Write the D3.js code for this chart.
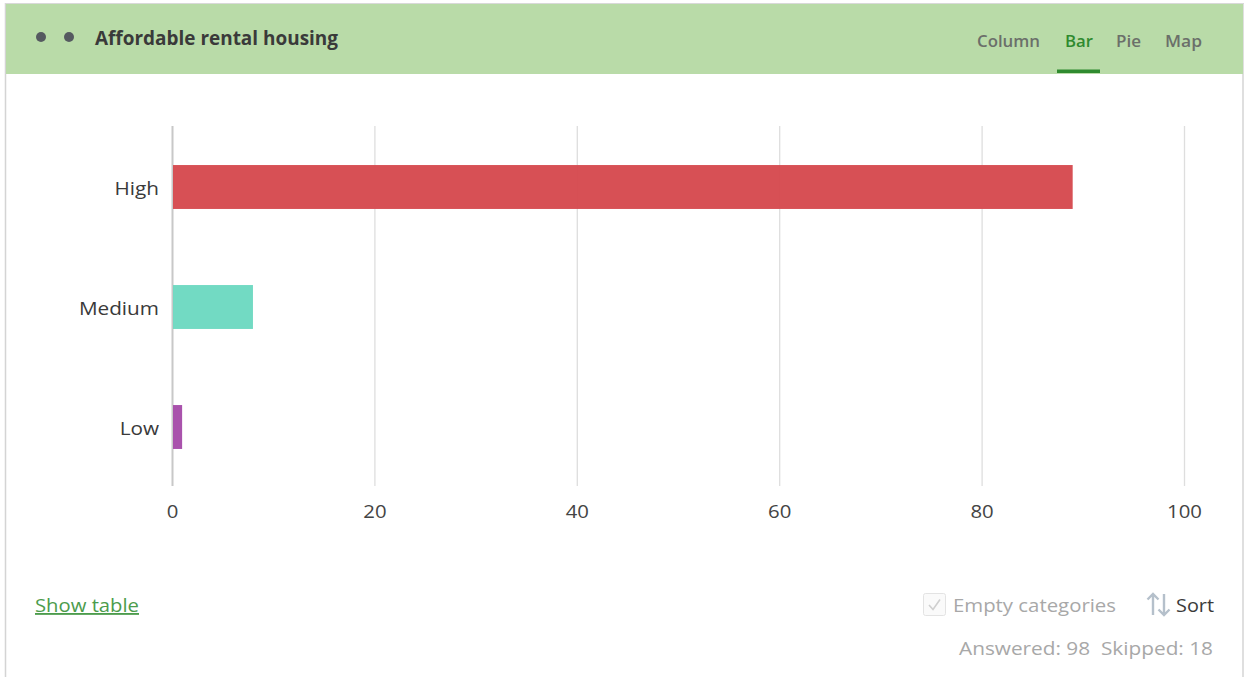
<!DOCTYPE html>
<html>
<head>
<meta charset="utf-8">
<script src="https://cdn.jsdelivr.net/npm/d3@7"></script>
<style>
  html, body { margin: 0; padding: 0; background: #fff; }
  svg { display: block; }
</style>
</head>
<body>
<svg id="chart" width="1244" height="677"></svg>
<script>
// Survey question results
const categories = ["High", "Medium", "Low"];
const counts = [89, 8, 1];
const barColors = ["#d64a4f", "#6dd9c1", "#a64ca9"];
const xTicks = [0, 20, 40, 60, 80, 100];
const tabs = ["Column", "Bar", "Pie", "Map"];
const answered = 98;
const skipped = 18;

const svg = d3.select("#chart");
const W = 1244, H = 677;
const font = "'Open Sans', 'Noto Sans', sans-serif";

// fit a text element to a given width
function fit(sel, w) {
  sel.attr("textLength", w).attr("lengthAdjust", "spacingAndGlyphs");
  return sel;
}
// widen text elements by a factor
function widen(sel, k) {
  sel.each(function () {
    const w = this.getComputedTextLength();
    d3.select(this).attr("textLength", w * k).attr("lengthAdjust", "spacingAndGlyphs");
  });
}

// card frame
svg.append("line").attr("x1", 5.5).attr("x2", 5.5).attr("y1", 3).attr("y2", H)
  .attr("stroke", "#d4d4d4").attr("stroke-width", 1.5);
svg.append("line").attr("x1", 1243).attr("x2", 1243).attr("y1", 3).attr("y2", H)
  .attr("stroke", "#d4d4d4").attr("stroke-width", 1.5);
svg.append("line").attr("x1", 5).attr("x2", W).attr("y1", 3.5).attr("y2", 3.5)
  .attr("stroke", "#d9d9d9").attr("stroke-width", 1);

// header band
svg.append("rect").attr("x", 6).attr("y", 4).attr("width", W - 7).attr("height", 70)
  .attr("fill", "#b9dba8");
svg.selectAll("circle.dot").data([41, 69]).join("circle")
  .attr("class", "dot").attr("cx", d => d).attr("cy", 37).attr("r", 5)
  .attr("fill", "#555a60");
fit(svg.append("text").attr("x", 95).attr("y", 45)
  .attr("font-family", font).attr("font-weight", 700).attr("font-size", 19)
  .attr("fill", "#3a3a3a").text("Affordable rental housing"), 243);

const tabX = [977, 1065, 1116, 1165];
const tabW = [63, 28, 25, 37];
svg.selectAll("text.tab").data(tabs).join("text")
  .attr("class", "tab")
  .attr("x", (d, i) => tabX[i]).attr("y", 47)
  .attr("font-family", font).attr("font-weight", 600).attr("font-size", 16)
  .attr("fill", d => d === "Bar" ? "#2f8a2f" : "#6b6f6a")
  .attr("textLength", (d, i) => tabW[i]).attr("lengthAdjust", "spacingAndGlyphs")
  .text(d => d);
svg.append("rect").attr("x", 1057).attr("y", 69.5).attr("width", 43).attr("height", 3.5)
  .attr("fill", "#2f8a2f");

// plot area
const plotLeft = 172, plotRight = 1184, plotTop = 126, plotBottom = 486;
const x = d3.scaleLinear().domain([0, 100]).range([plotLeft, plotRight]);
const y = d3.scaleBand().domain(categories).range([plotTop + 1, plotBottom + 1])
  .paddingInner(0.634).paddingOuter(0.317);

// vertical gridlines
const xAxis = d3.axisBottom(x).tickValues(xTicks).tickSize(-(plotBottom - plotTop)).tickPadding(19);
const gx = svg.append("g").attr("transform", `translate(0,${plotBottom})`).call(xAxis);
gx.select(".domain").remove();
gx.selectAll(".tick line").attr("stroke", d => d === 0 ? "#c8c8c8" : "#dedede")
  .attr("stroke-width", d => d === 0 ? 2 : 1.3);
gx.selectAll(".tick text").attr("font-family", font).attr("font-size", 18.5)
  .attr("fill", "#444");
widen(gx.selectAll(".tick text"), 1.1);

// category labels
const yAxis = d3.axisLeft(y).tickSize(0).tickPadding(13);
const gy = svg.append("g").attr("transform", `translate(${plotLeft},0)`).call(yAxis);
gy.select(".domain").remove();
gy.selectAll(".tick text").attr("font-family", font).attr("font-size", 18.5)
  .attr("fill", "#3a3a3a").attr("dy", "0.42em");
widen(gy.selectAll(".tick text"), 1.12);

// bars
svg.selectAll("rect.bar").data(categories).join("rect")
  .attr("class", "bar")
  .attr("x", x(0) + 1)
  .attr("y", d => y(d))
  .attr("width", (d, i) => x(counts[i]) - x(0) - 1)
  .attr("height", y.bandwidth())
  .attr("fill", (d, i) => barColors[i])
  .attr("fill-opacity", 0.97);

// footer
fit(svg.append("text").attr("x", 35).attr("y", 612)
  .attr("font-family", font).attr("font-size", 18.5)
  .attr("fill", "#4c9c4c").attr("text-decoration", "underline")
  .text("Show table"), 104);

svg.append("rect").attr("x", 923.5).attr("y", 593.5).attr("width", 22).attr("height", 22)
  .attr("rx", 2).attr("fill", "#fafafa").attr("stroke", "#e3e3e3");
svg.append("path").attr("d", "M929,605 L933,609.5 L940,599.5")
  .attr("fill", "none").attr("stroke", "#cfcfcf").attr("stroke-width", 1.6);
fit(svg.append("text").attr("x", 953).attr("y", 612)
  .attr("font-family", font).attr("font-size", 18.5)
  .attr("fill", "#a8a8a8").text("Empty categories"), 163);

// sort icon
const sortIcon = svg.append("g").attr("stroke", "#b5c0cb").attr("stroke-width", 2.4)
  .attr("fill", "none");
sortIcon.append("path").attr("d", "M1153,615 L1153,594 M1147.5,599.5 L1153,594 L1158.5,599.5");
sortIcon.append("path").attr("d", "M1164,594 L1164,615 M1158.5,609.5 L1164,615 L1169.5,609.5");
fit(svg.append("text").attr("x", 1176).attr("y", 612)
  .attr("font-family", font).attr("font-size", 18.5)
  .attr("fill", "#3a3a3a").text("Sort"), 38);

fit(svg.append("text").attr("x", 959).attr("y", 655)
  .attr("font-family", font).attr("font-size", 18.5)
  .attr("fill", "#a8a8a8")
  .attr("xml:space", "preserve")
  .text(`Answered: ${answered}  Skipped: ${skipped}`), 254);
</script>
</body>
</html>
